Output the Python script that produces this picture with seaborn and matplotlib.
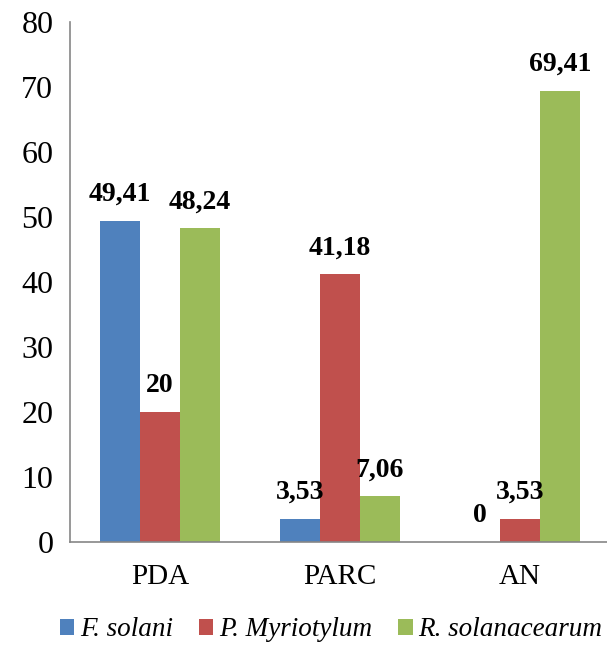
import matplotlib
matplotlib.use("Agg")
import matplotlib.pyplot as plt
import seaborn as sns
import pandas as pd
from matplotlib.patches import Patch

categories = ["PDA", "PARC", "AN"]
series = ["F. solani", "P. Myriotylum", "R. solanacearum"]
f_solani = [49.41, 3.53, 0]
p_myriotylum = [20, 41.18, 3.53]
r_solanacearum = [48.24, 7.06, 69.41]
labels_f = ["49,41", "3,53", "0"]
labels_p = ["20", "41,18", "3,53"]
labels_r = ["48,24", "7,06", "69,41"]
colors = ["#4F81BD", "#C0504D", "#9BBB59"]
yticks = [0, 10, 20, 30, 40, 50, 60, 70, 80]

rows = []
for s, vals in zip(series, [f_solani, p_myriotylum, r_solanacearum]):
    for c, v in zip(categories, vals):
        rows.append({"cat": c, "series": s, "val": v})
df = pd.DataFrame(rows)

sns.set_style("white")
plt.rcParams["font.family"] = ["Liberation Serif", "DejaVu Serif"]
plt.rcParams["text.color"] = "black"
plt.rcParams["xtick.color"] = "black"
plt.rcParams["ytick.color"] = "black"

W, H = 607, 645
fig = plt.figure(figsize=(W / 100, H / 100), dpi=100)
left, right = 70, 610
top, bottom = 22, 542
ax = fig.add_axes([left / W, 1 - bottom / H, (right - left) / W, (bottom - top) / H])

sns.barplot(data=df, x="cat", y="val", hue="series", order=categories,
            hue_order=series, palette=colors, width=0.667, gap=0,
            saturation=1, ax=ax, legend=False, edgecolor="none")

ax.set_xlim(-0.5, 2.5)
ax.set_ylim(0, 80)
ax.set_yticks(yticks)
ax.set_yticklabels([str(t) for t in yticks], fontsize=23)
ax.set_xticks([-0.5, 0.5, 1.5, 2.5])
ax.set_xticklabels([])
ax.set_xticks([0, 1, 2], minor=True)
ax.set_xticklabels(categories, minor=True, fontsize=21)
ax.tick_params(axis="x", which="minor", length=0, pad=16, labelcolor="black")
ax.tick_params(axis="x", which="major", length=6, width=1.2, color="#868686", direction="out")
ax.tick_params(axis="y", length=6, width=1.2, color="#868686", direction="out", pad=6,
               labelcolor="black")
ax.set_xlabel("")
ax.set_ylabel("")
for side in ["top", "right"]:
    ax.spines[side].set_visible(False)
for side in ["left", "bottom"]:
    ax.spines[side].set_color("#868686")
    ax.spines[side].set_linewidth(1.2)

all_labels = [labels_f, labels_p, labels_r]
for cont, labs in zip(ax.containers, all_labels):
    ax.bar_label(cont, labels=labs, padding=10, fontsize=20, fontweight="bold", color="black")

handles = [Patch(facecolor=c, edgecolor="none") for c in colors]
leg = fig.legend(handles, series, loc="center", bbox_to_anchor=(0.545, 1 - 630 / H),
                 ncol=3, frameon=False, prop={"style": "italic", "size": 19.5},
                 handlelength=0.55, handleheight=0.55, handletextpad=0.2,
                 columnspacing=0.95, borderpad=0.2)
for t in leg.get_texts():
    t.set_color("black")

fig.savefig("out.png", dpi=100)
